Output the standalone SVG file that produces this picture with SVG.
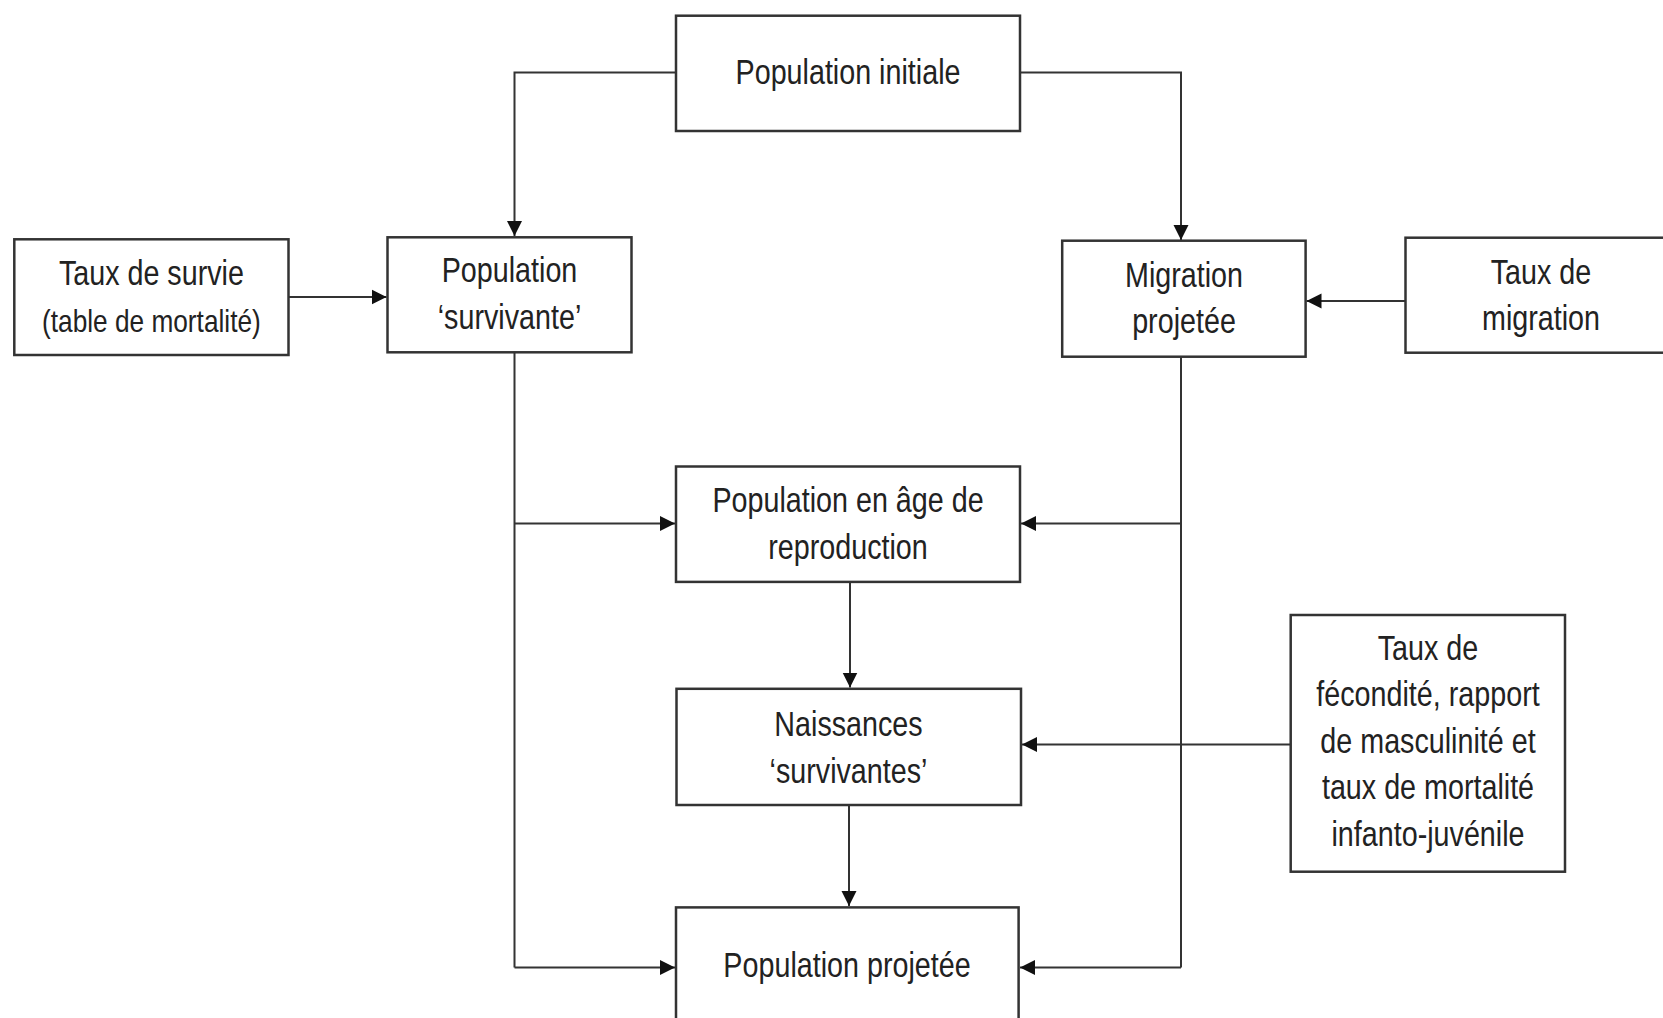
<svg xmlns="http://www.w3.org/2000/svg" width="1663" height="1018" viewBox="0 0 1663 1018">
<style>
.box{fill:#fff;stroke:#333;stroke-width:2.5}
.t{font-family:"Liberation Sans",Arial,sans-serif;font-size:35px;fill:#222;text-anchor:middle}
.s{font-size:32px}
.c{fill:none;stroke:#333;stroke-width:2}
</style>
<defs>
<marker id="ah" markerUnits="userSpaceOnUse" markerWidth="16" markerHeight="16" refX="15" refY="8" orient="auto">
<path d="M0,0.5 L15,8 L0,15.5 Z" fill="#111"/>
</marker>
</defs>
<g id="connectors">
<path class="c" d="M676,72.5 H514.5 V236" marker-end="url(#ah)"/>
<path class="c" d="M1020,72.5 H1181 V240" marker-end="url(#ah)"/>
<path class="c" d="M288.5,297 H386.5" marker-end="url(#ah)"/>
<path class="c" d="M1405.5,301 H1306.5" marker-end="url(#ah)"/>
<path class="c" d="M514.5,352.5 V967.5"/>
<path class="c" d="M514.5,523.5 H675" marker-end="url(#ah)"/>
<path class="c" d="M514.5,967.5 H675" marker-end="url(#ah)"/>
<path class="c" d="M1181,356.5 V967.5"/>
<path class="c" d="M1181,523.5 H1021" marker-end="url(#ah)"/>
<path class="c" d="M1181,967.5 H1020" marker-end="url(#ah)"/>
<path class="c" d="M850,582 V687.5" marker-end="url(#ah)"/>
<path class="c" d="M849,805 V906" marker-end="url(#ah)"/>
<path class="c" d="M1290.7,744.5 H1022" marker-end="url(#ah)"/>
</g>
<g id="pop-initiale">
<rect class="box" x="676" y="15.7" width="344" height="115.3"/>
<g transform="translate(848,0) scale(0.82,1)"><text class="t" x="0" y="84">Population initiale</text></g>
</g>
<g id="pop-survivante">
<rect class="box" x="387.5" y="237.3" width="244" height="115"/>
<g transform="translate(509.5,0) scale(0.82,1)">
<text class="t" x="0" y="282.5">Population</text>
<text class="t" x="0" y="329">‘survivante’</text>
</g>
</g>
<g id="taux-survie">
<rect class="box" x="14.3" y="239.3" width="274.2" height="115.7"/>
<g transform="translate(151.4,0) scale(0.82,1)">
<text class="t" x="0" y="285.5">Taux de survie</text>
<text class="t s" x="0" y="332">(table de mortalité)</text>
</g>
</g>
<g id="migration-projetee">
<rect class="box" x="1062.2" y="240.7" width="243.4" height="116"/>
<g transform="translate(1184,0) scale(0.82,1)">
<text class="t" x="0" y="287">Migration</text>
<text class="t" x="0" y="333.5">projetée</text>
</g>
</g>
<g id="taux-migration">
<rect class="box" x="1405.5" y="237.7" width="271" height="115"/>
<g transform="translate(1541,0) scale(0.82,1)">
<text class="t" x="0" y="284.5">Taux de</text>
<text class="t" x="0" y="330.5">migration</text>
</g>
</g>
<g id="pop-age-reproduction">
<rect class="box" x="676" y="466.5" width="344" height="115.4"/>
<g transform="translate(848,0) scale(0.82,1)">
<text class="t" x="0" y="512">Population en âge de</text>
<text class="t" x="0" y="559">reproduction</text>
</g>
</g>
<g id="naissances">
<rect class="box" x="676.5" y="688.8" width="344.5" height="116.2"/>
<g transform="translate(848.5,0) scale(0.82,1)">
<text class="t" x="0" y="736">Naissances</text>
<text class="t" x="0" y="783">‘survivantes’</text>
</g>
</g>
<g id="pop-projetee">
<rect class="box" x="676" y="907.4" width="342.6" height="116"/>
<g transform="translate(847,0) scale(0.82,1)"><text class="t" x="0" y="977">Population projetée</text></g>
</g>
<g id="taux-fecondite">
<rect class="box" x="1290.7" y="615" width="274.3" height="256.7"/>
<g transform="translate(1428,0) scale(0.82,1)">
<text class="t" x="0" y="660">Taux de</text>
<text class="t" x="0" y="706.5">fécondité, rapport</text>
<text class="t" x="0" y="753">de masculinité et</text>
<text class="t" x="0" y="799.5">taux de mortalité</text>
<text class="t" x="0" y="846">infanto-juvénile</text>
</g>
</g>
</svg>
